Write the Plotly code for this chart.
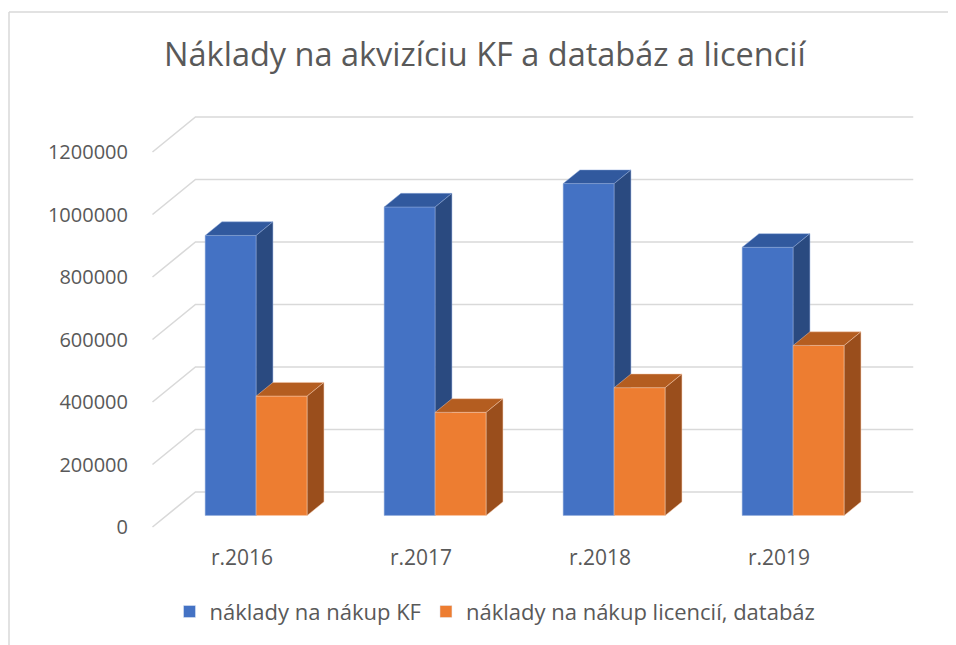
import plotly.graph_objects as go

categories = ["r.2016", "r.2017", "r.2018", "r.2019"]
kf_values = [896000, 987000, 1062000, 858000]
lic_values = [382000, 330000, 409000, 544000]
series_names = ["náklady na nákup KF", "náklady na nákup licencií, databáz"]
y_ticks = [0, 200000, 400000, 600000, 800000, 1000000, 1200000]
title_text = "Náklady na akvizíciu KF a databáz a licencií"

# pseudo-3D geometry (in axis units)
DX = 0.24        # depth shift along x (category units)
DY = 112000      # depth shift along y (value units)
Z0, Z1 = 0.33, 0.72   # bar front/back depth
W = 0.285        # single bar width
X0, X1 = -0.50, 3.75  # floor/wall extents

FONT = "Open Sans"
TXT = "#595959"
GRID = "#D9D9D9"

fig = go.Figure()

# gridlines: front diagonal + back wall line
gx, gy = [], []
for v in y_ticks:
    gx += [X0, X0 + DX, X1, None]
    gy += [v, v + DY, v + DY, None]
fig.add_trace(go.Scatter(x=gx, y=gy, mode="lines", line=dict(color=GRID, width=1.6),
                         hoverinfo="skip", showlegend=False))

def box(xl, v, front, top, side, edge):
    xr = xl + W
    b = DY * Z0
    t = v + DY * Z0
    dx = DX * (Z1 - Z0)
    dy = DY * (Z1 - Z0)
    fx = [xl, xr, xr, xl, xl]
    fy = [b, b, t, t, b]
    tx = [xl, xr, xr + dx, xl + dx, xl]
    ty = [t, t, t + dy, t + dy, t]
    sx = [xr, xr + dx, xr + dx, xr, xr]
    sy = [b, b + dy, t + dy, t, b]
    for px, py, col in [(fx, fy, front), (tx, ty, top), (sx, sy, side)]:
        fig.add_trace(go.Scatter(x=px, y=py, mode="lines", fill="toself", fillcolor=col,
                                 line=dict(color=edge, width=0.8), hoverinfo="skip",
                                 showlegend=False))

for i in range(len(categories)):
    xc = i + DX * Z0
    box(xc - W, kf_values[i], "#4472C4", "#31599E", "#2A4A80", "rgba(143,170,220,0.6)")
    box(xc, lic_values[i], "#ED7D31", "#B45D20", "#9A4E1C", "rgba(248,203,173,0.6)")

# legend entries
fig.add_trace(go.Bar(x=[None], y=[None], name=series_names[0], marker_color="#4472C4"))
fig.add_trace(go.Bar(x=[None], y=[None], name=series_names[1], marker_color="#ED7D31"))

FW, FH = 948, 637
L, R, T, B = 142, 41, 92, 115
PW, PH = FW - L - R, FH - T - B
# y mapping: front-plane 0 at fig pixel 519, 62.5 px per 200000
ppu = 62.5 / 200000
ylo = -((FH - B) - 519) / ppu
yhi = (519 - T) / ppu
fig.update_layout(
    width=FW, height=FH,
    margin=dict(l=L, r=R, t=T, b=B),
    paper_bgcolor="white", plot_bgcolor="white",
    font=dict(family=FONT, color=TXT, size=20),
    title=dict(text=title_text, x=0.503, xanchor="center", y=1 - 47 / FH, yanchor="middle",
               font=dict(family=FONT, size=32.5, color=TXT)),
    xaxis=dict(range=[(L - 234) / 179, (FW - R - 234) / 179], tickvals=[0, 1, 2, 3],
               ticktext=categories, showgrid=False, zeroline=False, showline=False,
               ticks="", ticklabelstandoff=13, fixedrange=True,
               tickfont=dict(size=21)),
    yaxis=dict(range=[ylo, yhi], tickvals=y_ticks, tickformat="d", showgrid=False,
               zeroline=False, showline=False, ticks="", ticklabelstandoff=21,
               fixedrange=True, tickfont=dict(size=20)),
    legend=dict(orientation="h", x=0.451, xanchor="center", y=-0.19, yanchor="middle",
                font=dict(size=22, color=TXT), itemclick=False),
    showlegend=True,
)
# outer chart border (left and top edges visible)
ytop = ((FH - B) - 4) / PH
xleft = (1 - L) / PW
fig.add_shape(type="line", xref="paper", yref="paper", x0=xleft, x1=1.2,
              y0=ytop, y1=ytop, line=dict(color="#D9D9D9", width=1.5))
fig.add_shape(type="line", xref="paper", yref="paper", x0=xleft, x1=xleft,
              y0=ytop, y1=-0.4, line=dict(color="#D9D9D9", width=1.5))

fig.write_html("out.html")
